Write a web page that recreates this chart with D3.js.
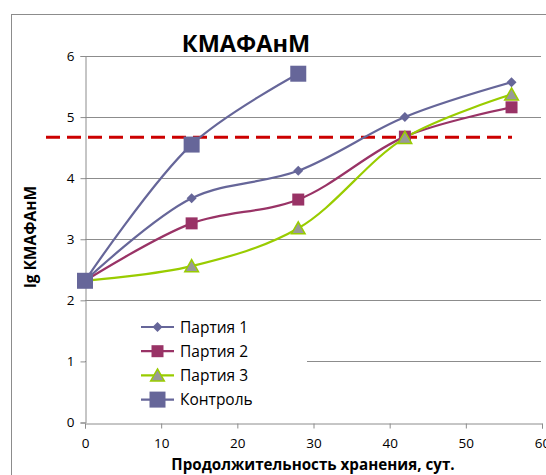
<!DOCTYPE html>
<html>
<head>
<meta charset="utf-8">
<script src="https://cdn.jsdelivr.net/npm/d3@7"></script>
<style>
  html, body { margin: 0; padding: 0; background: #fff; }
  svg { display: block; }
</style>
</head>
<body>
<svg id="chart" width="546" height="475"></svg>
<script>
// Storage time, days
const days = [0, 14, 28, 42, 56];
const controlDays = [0, 14, 28];

// lg КМАФАнМ per batch
const batch1 = [2.32, 3.67, 4.12, 5.00, 5.57];
const batch2 = [2.32, 3.26, 3.65, 4.68, 5.16];
const batch3 = [2.32, 2.56, 3.18, 4.66, 5.37];
const control = [2.32, 4.55, 5.71];

// Permissible level
const limit = 4.67;

const xTicks = [0, 10, 20, 30, 40, 50, 60];
const yTicks = [0, 1, 2, 3, 4, 5, 6];

const seriesNames = ["Партия 1", "Партия 2", "Партия 3", "Контроль"];

const series = [
  { name: seriesNames[0], x: days, y: batch1, line: "#666699", fill: "#666699", stroke: "none", shape: "diamond", size: 10 },
  { name: seriesNames[1], x: days, y: batch2, line: "#993366", fill: "#993366", stroke: "none", shape: "square", size: 12 },
  { name: seriesNames[2], x: days, y: batch3, line: "#99CC00", fill: "#999999", stroke: "#99CC00", shape: "triangle", size: 13 },
  { name: seriesNames[3], x: controlDays, y: control, line: "#666699", fill: "#666699", stroke: "none", shape: "square", size: 16 }
];

const svg = d3.select("#chart");
const font = "'Open Sans', 'Liberation Sans', sans-serif";

// chart border
svg.append("rect")
  .attr("x", 11.5).attr("y", 14.5)
  .attr("width", 560).attr("height", 500)
  .attr("fill", "#fff").attr("stroke", "#8c8c8c").attr("stroke-width", 1);

const x = d3.scaleLinear().domain([0, 60]).range([85, 542]);
const y = d3.scaleLinear().domain([0, 6]).range([422.5, 56]);

// horizontal gridlines
svg.append("g")
  .selectAll("line")
  .data(yTicks.filter(d => d > 0))
  .join("line")
  .attr("x1", x(0)).attr("x2", 541)
  .attr("y1", d => Math.round(y(d)) + 0.5).attr("y2", d => Math.round(y(d)) + 0.5)
  .attr("stroke", "#8c8c8c").attr("stroke-width", 1);

// legend background (hides grid behind it)
svg.append("rect")
  .attr("x", 86).attr("y", 313).attr("width", 221).attr("height", 100)
  .attr("fill", "#fff");

// axes
const yAxis = d3.axisLeft(y).tickValues(yTicks).tickSize(5).tickPadding(6).tickFormat(d3.format("d"));
const gy = svg.append("g").attr("transform", `translate(${x(0) + 0.5},0)`).call(yAxis);
const xAxis = d3.axisBottom(x).tickValues(xTicks).tickSize(5).tickPadding(10).tickFormat(d3.format("d"));
const gx = svg.append("g").attr("transform", `translate(0,${Math.round(y(0)) + 0.5})`).call(xAxis);
[gx, gy].forEach(g => {
  g.select(".domain").attr("stroke", "#8c8c8c");
  g.selectAll(".tick line").attr("stroke", "#8c8c8c");
  g.selectAll(".tick text").attr("fill", "#000").style("font-family", font).style("font-size", "13.5px");
});

// threshold line
svg.append("line")
  .attr("x1", 46).attr("x2", 512)
  .attr("y1", y(limit)).attr("y2", y(limit))
  .attr("stroke", "#CC0000").attr("stroke-width", 3)
  .attr("stroke-dasharray", "14,7");

const lineGen = d3.line().curve(d3.curveCatmullRom.alpha(0.5));

function symbolPath(shape, s) {
  const h = s / 2;
  if (shape === "diamond") return `M0,${-h}L${h},0L0,${h}L${-h},0Z`;
  if (shape === "square") return `M${-h},${-h}H${h}V${h}H${-h}Z`;
  if (shape === "triangle") return `M0,${-h}L${h * 1.05},${h * 0.85}L${-h * 1.05},${h * 0.85}Z`;
}

const plot = svg.append("g");
series.forEach(s => {
  const pts = s.x.map((d, i) => [x(d), y(s.y[i])]);
  plot.append("path")
    .attr("d", lineGen(pts))
    .attr("fill", "none").attr("stroke", s.line).attr("stroke-width", 2.2);
});
series.forEach(s => {
  plot.append("g").selectAll("path")
    .data(s.x.map((d, i) => [d, s.y[i]]))
    .join("path")
    .attr("transform", d => `translate(${x(d[0])},${y(d[1])})`)
    .attr("d", symbolPath(s.shape, s.size))
    .attr("fill", s.fill)
    .attr("stroke", s.stroke).attr("stroke-width", s.stroke === "none" ? 0 : 1.5);
});

// legend
const legend = svg.append("g");
series.forEach((s, i) => {
  const ly = 327 + i * 24.2;
  const g = legend.append("g").attr("transform", `translate(0,${ly})`);
  g.append("line").attr("x1", 141).attr("x2", 174).attr("y1", 0).attr("y2", 0)
    .attr("stroke", s.line).attr("stroke-width", 2.2);
  g.append("path").attr("transform", "translate(157.5,0)")
    .attr("d", symbolPath(s.shape, s.size))
    .attr("fill", s.fill).attr("stroke", s.stroke).attr("stroke-width", s.stroke === "none" ? 0 : 1.5);
  g.append("text").attr("x", 180).attr("y", 5.5)
    .style("font-family", font).style("font-size", "15.5px").attr("fill", "#000")
    .text(s.name);
});

// title
svg.append("text")
  .attr("x", 246).attr("y", 52).attr("text-anchor", "middle")
  .style("font-family", font).style("font-size", "23.5px").style("font-weight", "bold")
  .text("КМАФАнМ");

// axis titles
svg.append("text")
  .attr("transform", "translate(36,237) rotate(-90)")
  .attr("text-anchor", "middle")
  .style("font-family", font).style("font-size", "15.5px").style("font-weight", "bold")
  .text("lg КМАФАнМ");

svg.append("text")
  .attr("x", 313).attr("y", 470).attr("text-anchor", "middle")
  .style("font-family", font).style("font-size", "15.2px").style("font-weight", "bold")
  .text("Продолжительность хранения, сут.");
</script>
</body>
</html>
